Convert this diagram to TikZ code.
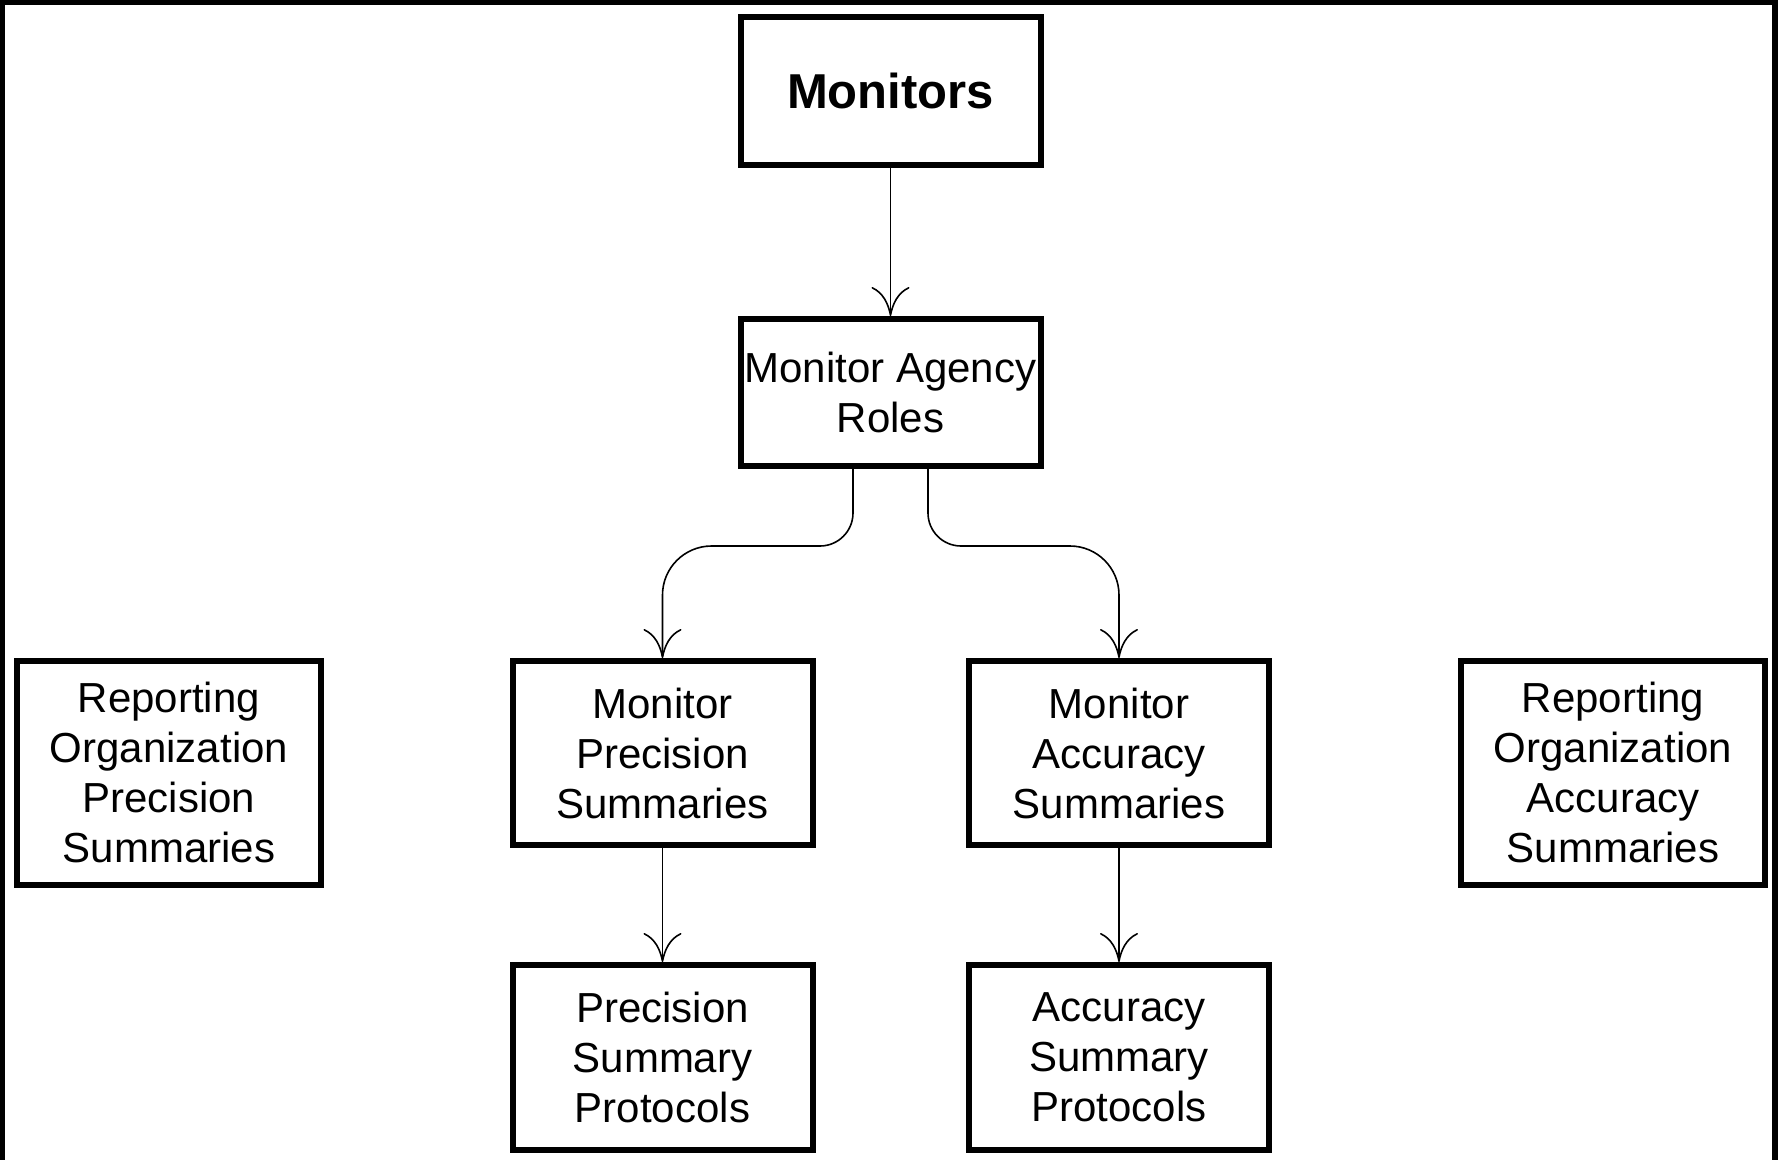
\documentclass[tikz,border=0pt]{standalone}
\usepackage{fontspec}
\setmainfont{Liberation Sans}
\usetikzlibrary{arrows.meta,calc}
\begin{document}
\begin{tikzpicture}[x=1pt,y=-1pt,
  box/.style={draw=black, line width=6pt, fill=white, inner sep=0pt, align=center,
    minimum width=300pt, font=\fontsize{42}{50}\selectfont},
  conn/.style={draw=black, line width=1.6pt,
    -{Computer Modern Rightarrow[length=29pt,width=38pt,line width=1.6pt]}}]
\useasboundingbox (0,0) rectangle (1778,1160);
\fill[white] (0,0) rectangle (1778,1160);
% frame
\draw[line width=5pt] (0,2.5) -- (1778,2.5);
\draw[line width=5pt] (2.5,0) -- (2.5,1160);
\draw[line width=6pt] (1775,0) -- (1775,1160);
% nodes
\node[box, minimum height=148pt, font=\fontsize{49}{56}\selectfont\bfseries] (mon) at (890.5,91) {Monitors};
\node[box, minimum height=147pt] (mar) at (890.5,392.5) {Monitor Agency\\Roles};
\node[box, minimum height=184pt] (mps) at (662.5,753) {Monitor\\Precision\\Summaries};
\node[box, minimum height=184pt] (mas) at (1119,753) {Monitor\\Accuracy\\Summaries};
\node[box, minimum height=224pt, minimum width=304pt] (rop) at (169,772.5) {Reporting\\Organization\\Precision\\Summaries};
\node[box, minimum height=224pt, minimum width=304pt] (roa) at (1613,772.5) {Reporting\\Organization\\Accuracy\\Summaries};
\node[box, minimum height=185pt] (psp) at (662.5,1057.5) {Precision\\Summary\\Protocols};
\node[box, minimum height=185pt] (asp) at (1119,1057.5) {Accuracy\\Summary\\Protocols};
% connectors
\draw[conn] (mon.south) -- (mar.north);
\draw[conn] (mps.south) -- (psp.north);
\draw[conn] (mas.south) -- (asp.north);
\coordinate (lt) at ($(mar.south)+(-37.5,0)$);
\coordinate (rt) at ($(mar.south)+(37.5,0)$);
\coordinate (lc) at (lt|-0,546);
\coordinate (rc) at (rt|-0,546);
\coordinate (lb) at (mps.north|-0,546);
\coordinate (rb) at (mas.north|-0,546);
\draw[conn] (lt) -- ($(lc)+(0,-33)$)
   .. controls ($(lc)+(0,-14.8)$) and ($(lc)+(-14.8,0)$) .. ($(lc)+(-33,0)$)
   -- ($(lb)+(49,0)$)
   .. controls ($(lb)+(22,0)$) and ($(lb)+(0,22)$) .. ($(lb)+(0,49)$)
   -- (mps.north);
\draw[conn] (rt) -- ($(rc)+(0,-33)$)
   .. controls ($(rc)+(0,-14.8)$) and ($(rc)+(14.8,0)$) .. ($(rc)+(33,0)$)
   -- ($(rb)+(-49,0)$)
   .. controls ($(rb)+(-22,0)$) and ($(rb)+(0,22)$) .. ($(rb)+(0,49)$)
   -- (mas.north);
\end{tikzpicture}
\end{document}
